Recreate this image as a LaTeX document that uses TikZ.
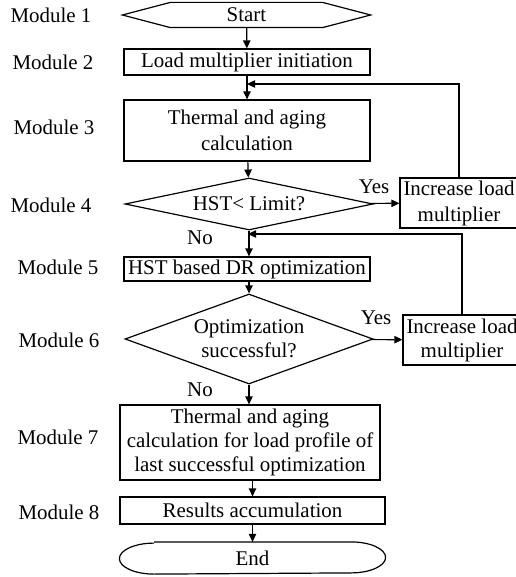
\documentclass[tikz,border=0pt]{standalone}
\usepackage{fontspec}
\setmainfont{Liberation Serif}
\usetikzlibrary{shapes.geometric,arrows.meta}

\tikzset{
  box/.style={draw, rectangle, inner sep=0pt, align=center},
  decision/.style={draw, diamond, inner sep=0pt, align=center},
  modlbl/.style={anchor=west, inner sep=0pt},
  flow/.style={-{Triangle[length=6pt,width=5.5pt]}},
}

\begin{document}
\begin{tikzpicture}[x=0.75pt, y=-0.75pt, line width=0.9pt, font=\fontsize{15.7}{18}\selectfont]
\useasboundingbox (0,0) rectangle (516,577);

% module labels
\foreach \n/\x/\y in {1/10/15, 2/12/62, 3/13/127, 4/10/205, 5/17/267, 6/18/340, 7/17/437, 8/18/512}
	\node[modlbl] (m\n) at (\x,\y) {Module \n};

% start terminal
\node[minimum width=185.25pt, minimum height=18pt, inner sep=0pt] (start) at (246.5,15) {Start};
\draw (start.west) -- ([xshift=36pt]start.north west) -- ([xshift=-36pt]start.north east) -- (start.east)
	-- ([xshift=-36pt]start.south east) -- ([xshift=36pt]start.south west) -- cycle;

% main column
\node[box, minimum width=184.5pt, minimum height=19.5pt] (load) at (247,62) {Load multiplier initiation};
\node[box, minimum width=184.5pt, minimum height=45.75pt] (therm) at (247,130.5) {Thermal and aging\\[1.5pt]calculation};
\node[decision, shape aspect=4.8, minimum width=186pt, minimum height=39pt] (lim) at (249,204) {HST< Limit?};
\node[box, minimum width=184.5pt, minimum height=18pt] (hst) at (247,269) {HST based DR optimization};
\node[decision, shape aspect=2.76, minimum width=186pt, minimum height=67.5pt] (opt) at (249,339) {Optimization\\successful?};
\node[box, minimum width=195pt, minimum height=56.25pt] (calc) at (250,442.5) {Thermal and aging\\calculation for load profile of\\last successful optimization};
\node[box, minimum width=198.75pt, minimum height=20.25pt] (res) at (252.5,510.5) {Results accumulation};

% end terminal
\node[minimum width=198.75pt, minimum height=23.25pt, inner sep=0pt] (end) at (252.5,558) {End};
\draw ([xshift=26pt]end.north west) -- ([xshift=-26pt]end.north east)
	arc[start angle=90, end angle=-90, x radius=26pt, y radius=11.625pt]
	-- ([xshift=26pt]end.south west)
	arc[start angle=270, end angle=90, x radius=26pt, y radius=11.625pt];

% side boxes
\node[box, minimum width=88.5pt, minimum height=37.5pt] (inc1) at (459,203) {Increase load\\[1.5pt]multiplier};
\node[box, minimum width=88.5pt, minimum height=37.5pt] (inc2) at (462,340) {Increase load\\multiplier};

% branch labels
\node (yes1) at (374,187) {Yes};
\node (yes2) at (376,318) {Yes};
\node (no1) at (200,238) {No};
\node (no2) at (200,390) {No};

% junctions of the loops
\coordinate (j1) at (247,84);
\coordinate (j2) at (248,234);

\draw[flow] (start) -- (load);
\draw[flow] (load) -- (therm);
\draw[flow] (therm) -- (lim);
\draw[flow] (lim) -- (hst.north -| lim);
\draw[flow] (lim) -- (inc1);
\draw[flow] (hst.south -| opt) -- (opt);
\draw[flow] (opt) -- (inc2);
\draw[flow] (opt) -- (calc.north -| opt);
\draw[flow] (res.north |- calc.south) -- (res);
\draw[flow] (res) -- (end);

\draw[flow] (inc1) |- (j1);
\draw[flow] (inc2) |- (j2);

\end{tikzpicture}
\end{document}
